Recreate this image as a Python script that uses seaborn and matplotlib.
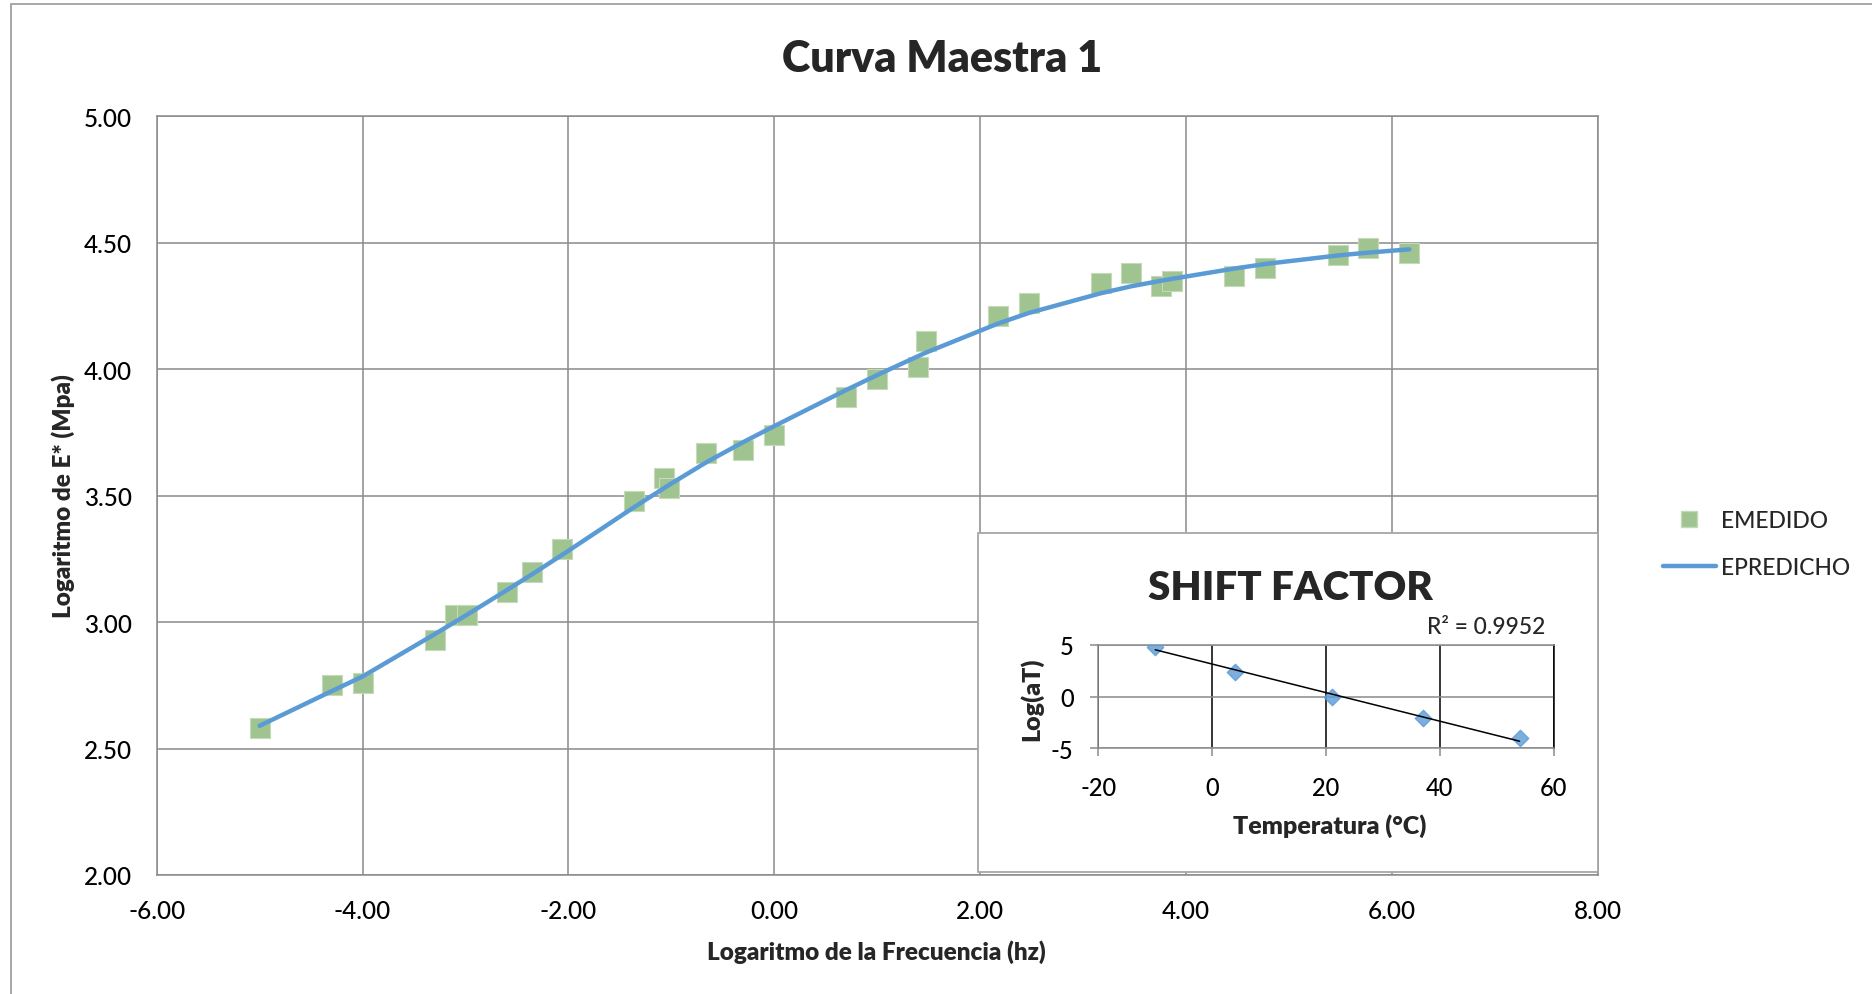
import numpy as np
import matplotlib
matplotlib.use("Agg")
import matplotlib.pyplot as plt
from matplotlib.patches import Rectangle
from matplotlib.lines import Line2D
from matplotlib.ticker import FormatStrFormatter
import seaborn as sns

# Master curve: measured and predicted log|E*| against log reduced frequency
log_freq = [-5.00, -4.30, -4.00, -3.30, -3.10, -2.99, -2.60, -2.35, -2.06, -1.36,
            -1.07, -1.02, -0.66, -0.30, 0.00, 0.70, 1.00, 1.40, 1.47, 2.17,
            2.47, 3.17, 3.47, 3.76, 3.86, 4.47, 4.77, 5.48, 5.77, 6.17]
e_medido = [2.58, 2.75, 2.76, 2.93, 3.03, 3.03, 3.12, 3.20, 3.29, 3.48,
            3.57, 3.53, 3.67, 3.68, 3.74, 3.89, 3.96, 4.01, 4.11, 4.21,
            4.26, 4.34, 4.38, 4.33, 4.35, 4.37, 4.40, 4.45, 4.48, 4.46]
e_predicho = [2.590, 2.727, 2.785, 2.952, 3.001, 3.028, 3.126, 3.190, 3.266, 3.455,
              3.530, 3.543, 3.632, 3.712, 3.775, 3.918, 3.977, 4.052, 4.065, 4.180,
              4.222, 4.300, 4.328, 4.350, 4.357, 4.398, 4.416, 4.450, 4.461, 4.474]

# Shift factors per test temperature
temperatura = [-10, 4, 21, 37, 54]
log_at = [4.84, 2.43, 0.00, -2.10, -4.05]
r2_label = "R² = 0.9952"

x_ticks = [-6, -4, -2, 0, 2, 4, 6, 8]
y_ticks = [2.0, 2.5, 3.0, 3.5, 4.0, 4.5, 5.0]
t_ticks = [-20, 0, 20, 40, 60]
a_ticks = [-5, 0, 5]

sns.set_theme(style="white")
plt.rcParams["font.family"] = ["Lato", "DejaVu Sans"]
plt.rcParams["axes.unicode_minus"] = False
plt.rcParams["font.weight"] = "medium"

W, H = 1872, 995
fig = plt.figure(figsize=(W / 100, H / 100), dpi=100)

def fx(px):
    return px / W

def fy(py):
    return 1 - py / H

GRID = "#8a8a8a"
GREEN = "#9fc48f"
BLUE = "#5b9bd5"
BOLD = "heavy"

# chart frame
fig.patches.append(Rectangle((fx(11), -0.2), 1.2, fy(5) + 0.2, transform=fig.transFigure,
                             facecolor="none", edgecolor="#a0a0a0", lw=1.3, zorder=0))

ax = fig.add_axes([fx(156.7), fy(876), fx(1597.7) - fx(156.7), fy(117.3) - fy(876)])
ax.set_zorder(0)
sns.scatterplot(x=log_freq, y=e_medido, marker="s", s=200, color=GREEN,
                edgecolor="#c4dab8", linewidth=0.8, ax=ax, zorder=3, legend=False)
sns.lineplot(x=log_freq, y=e_predicho, color=BLUE, lw=3.2, ax=ax, zorder=4,
             legend=False, sort=True)
ax.set_xlim(-6, 8)
ax.set_ylim(2, 5)
ax.set_xticks(x_ticks)
ax.set_yticks(y_ticks)
ax.xaxis.set_major_formatter(FormatStrFormatter("%.2f"))
ax.yaxis.set_major_formatter(FormatStrFormatter("%.2f"))
ax.tick_params(axis="both", length=0, labelsize=17.5, colors="black")
ax.tick_params(axis="y", pad=18)
ax.tick_params(axis="x", pad=17)
ax.grid(True, color=GRID, lw=1.1)
for s in ax.spines.values():
    s.set_color(GRID)
    s.set_linewidth(1.1)
ax.set_xlabel("")
ax.set_ylabel("")

fig.text(fx(941.7), fy(72.3), "Curva Maestra 1", ha="center", va="baseline",
         fontsize=31, fontweight=BOLD)
fig.text(fx(876.7), fy(960), "Logaritmo de la Frecuencia (hz)", ha="center",
         va="baseline", fontsize=17.5, fontweight=BOLD)
fig.text(fx(63), fy(496.5), "Logaritmo de E* (Mpa)", ha="center", va="center",
         rotation=90, fontsize=17.5, fontweight=BOLD)

handles = [Line2D([], [], marker="s", ls="", ms=12, color=GREEN,
                  markeredgecolor="#c4dab8"),
           Line2D([], [], color=BLUE, lw=3.2)]
fig.legend(handles, ["EMEDIDO", "EPREDICHO"], loc="center left",
           bbox_to_anchor=(fx(1663), fy(545)), frameon=False, fontsize=16.5,
           handlelength=2.3, handletextpad=0.25, labelspacing=1.1,
           borderpad=0, borderaxespad=0)

# shift factor inset
fig.patches.append(Rectangle((fx(978.3), fy(873.3)), fx(1597.7) - fx(978.3),
                             fy(534) - fy(873.3), transform=fig.transFigure,
                             facecolor="white", edgecolor="#a6a6a6", lw=1.3, zorder=1))

ax2 = fig.add_axes([fx(1098.3), fy(749.3), fx(1553.7) - fx(1098.3), fy(646) - fy(749.3)])
ax2.set_zorder(2)
sns.regplot(x=temperatura, y=log_at, ci=None, ax=ax2, marker="D",
            scatter_kws=dict(s=70, color=BLUE, edgecolor=BLUE, zorder=3),
            line_kws=dict(color="black", lw=1.1, zorder=4))
ax2.set_xlim(-20, 60)
ax2.set_ylim(-5, 5)
ax2.set_xticks(t_ticks)
ax2.set_yticks(a_ticks)
ax2.grid(True, axis="x", color="black", lw=1.1)
ax2.grid(True, axis="y", color=GRID, lw=1.1)
for name, s in ax2.spines.items():
    s.set_color(GRID)
    s.set_linewidth(1.1)
ax2.spines["right"].set_color("black")
ax2.tick_params(axis="both", direction="out", length=5.8, width=1.1, color=GRID,
                labelsize=17, colors=GRID, labelcolor="black")
ax2.tick_params(axis="y", pad=12, left=True)
ax2.tick_params(axis="x", pad=14, bottom=True)
ax2.set_xlabel("")
ax2.set_ylabel("")

fig.text(fx(1290), fy(600), "SHIFT FACTOR", ha="center", va="baseline",
         fontsize=29, fontweight=BOLD, zorder=5)
fig.text(fx(1545), fy(634), r2_label, ha="right", va="baseline",
         fontsize=16.5, zorder=5)
fig.text(fx(1330), fy(834), "Temperatura (°C)", ha="center", va="baseline",
         fontsize=18, fontweight=BOLD, zorder=5)
fig.text(fx(1031), fy(699), "Log(aT)", ha="center", va="center", rotation=90,
         fontsize=18, fontweight=BOLD, zorder=5)

fig.savefig("out.png", dpi=100)
